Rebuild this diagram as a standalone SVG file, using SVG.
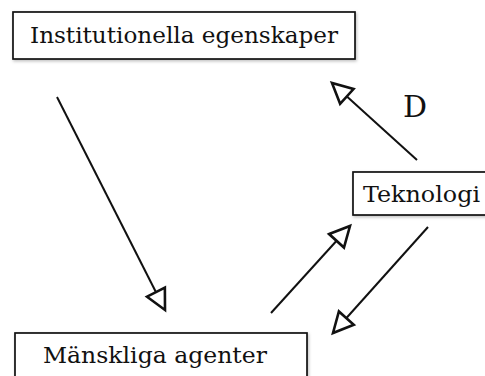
<svg xmlns="http://www.w3.org/2000/svg" width="485" height="376" viewBox="0 0 485 376">
<defs>
<filter id="sh" x="-10%" y="-30%" width="120%" height="160%">
<feDropShadow dx="1" dy="1.5" stdDeviation="1.5" flood-color="#000" flood-opacity="0.25"/>
</filter>
<marker id="ah" viewBox="0 0 26 26" markerWidth="26" markerHeight="26" refX="23" refY="13" orient="auto" markerUnits="userSpaceOnUse">
<path d="M3,3 L23,13 L3,23 Z" fill="#fff" stroke="#111" stroke-width="2.6" stroke-linejoin="miter"/>
</marker>
</defs>
<style>
.box{fill:#fff;stroke:#111;stroke-width:1.7;filter:url(#sh)}
.t{font-family:"DejaVu Serif","Liberation Serif",serif;font-size:23px;fill:#111}
.c{stroke:#111;stroke-width:2;fill:none;marker-end:url(#ah)}
</style>
<rect width="485" height="376" fill="#fff"/>
<g id="connectors">
<line class="c" x1="57" y1="97" x2="165" y2="310"/>
<line class="c" x1="417" y1="160" x2="332" y2="83"/>
<line class="c" x1="271" y1="313" x2="350" y2="226"/>
<line class="c" x1="428" y1="227" x2="333" y2="333"/>
<text x="403" y="117" style="font-family:'DejaVu Serif','Liberation Serif',serif;font-size:30px;fill:#111">D</text>
</g>
<g id="institutionella">
<rect class="box" x="13" y="12" width="342" height="47"/>
<text class="t" x="30" y="43" textLength="308" lengthAdjust="spacingAndGlyphs">Institutionella egenskaper</text>
</g>
<g id="teknologi">
<rect class="box" x="353" y="172" width="133" height="43"/>
<text class="t" x="363" y="202" textLength="117" lengthAdjust="spacingAndGlyphs">Teknologi</text>
</g>
<g id="manskliga">
<rect class="box" x="15" y="333" width="292" height="50"/>
<text class="t" x="43" y="363" textLength="224" lengthAdjust="spacingAndGlyphs">Mänskliga agenter</text>
</g>
</svg>
